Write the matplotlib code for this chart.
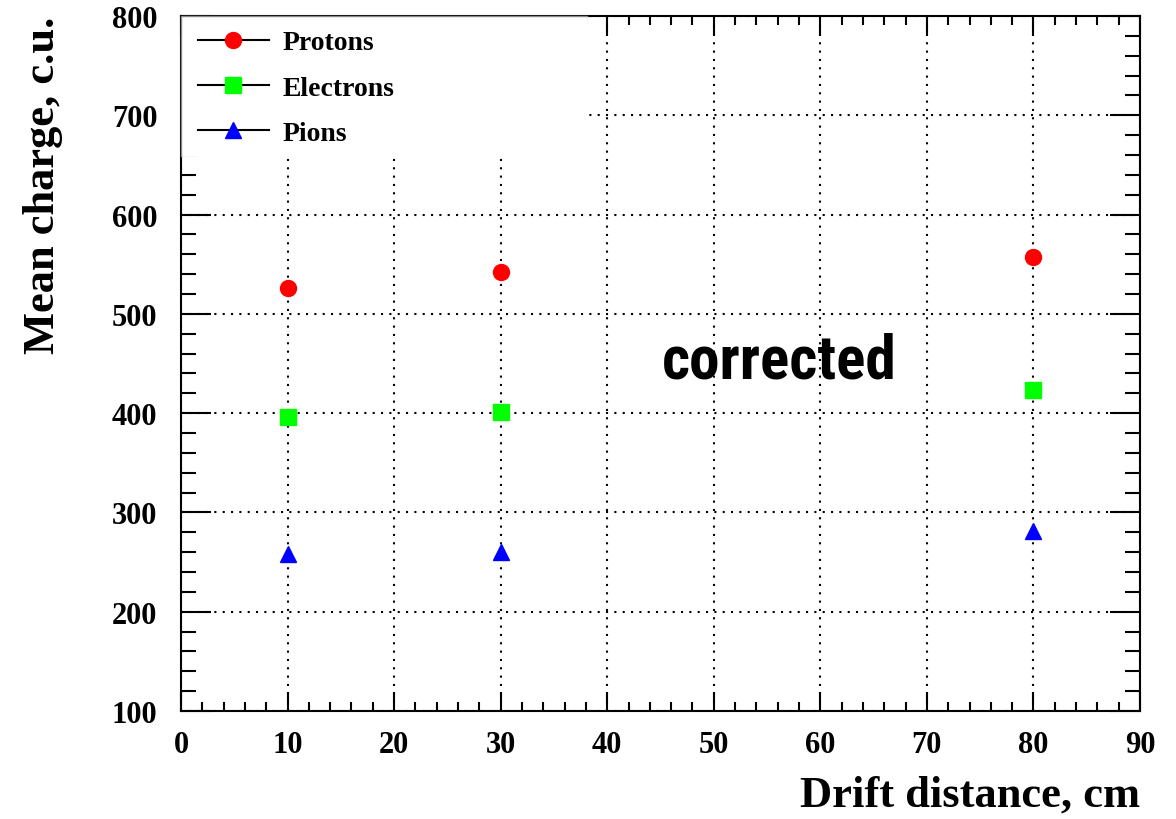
import numpy as np
import matplotlib
matplotlib.use("Agg")
import matplotlib.pyplot as plt
from matplotlib import font_manager
from matplotlib.ticker import MultipleLocator
from matplotlib.patches import Rectangle
from matplotlib.lines import Line2D

# mean collected charge vs drift distance, per particle type
drift = [10, 30, 80]
protons = [526, 542, 557]
electrons = [396, 401, 423]
pions = [258, 260, 281]

plt.rcParams['font.family'] = ['Liberation Serif', 'DejaVu Serif']
plt.rcParams['font.weight'] = 'bold'

fig = plt.figure(figsize=(11.76, 8.2), dpi=100)
ax = fig.add_axes([0.1539, 0.1317, 0.8155, 0.8476])

ax.set_xlim(0, 90)
ax.set_ylim(100, 800)

ax.plot(drift, protons, 'o', color='red', ms=11.5, mec='red', label='Protons', zorder=3)
ax.plot(drift, electrons, 's', color='#00ff00', ms=11.5, mec='#00ff00', label='Electrons', zorder=3)
ax.plot(drift, pions, '^', color='blue', ms=11.5, mec='blue', label='Pions', zorder=3)

ax.xaxis.set_major_locator(MultipleLocator(10))
ax.xaxis.set_minor_locator(MultipleLocator(2))
ax.yaxis.set_major_locator(MultipleLocator(100))
ax.yaxis.set_minor_locator(MultipleLocator(20))

ax.grid(True, which='major', color='black', linestyle=(0, (1, 3)), linewidth=1.5)

ax.tick_params(axis='both', which='both', direction='in', top=True, right=True,
               width=1.5, labelsize=22, colors='black')
ax.tick_params(axis='x', which='major', length=13.5, pad=14)
ax.tick_params(axis='x', which='minor', length=6.5)
ax.tick_params(axis='y', which='major', length=21.5, pad=17)
ax.tick_params(axis='y', which='minor', length=11)
for s in ax.spines.values():
    s.set_linewidth(1.5)

ax.set_xlabel('Drift distance, cm', fontsize=32, fontweight='bold', loc='right', labelpad=11)
ax.set_ylabel('Mean charge, c.u.', fontsize=32, fontweight='bold', loc='top', labelpad=35)

# pick a narrow bold sans if one is around
installed = {f.name for f in font_manager.fontManager.ttflist}
narrow = [f for f in ['Liberation Sans Narrow', 'Roboto Condensed', 'Open Sans Condensed',
                      'DejaVu Sans Condensed'] if f in installed]
if narrow:
    ax.text(45.1, 436, 'corrected', fontsize=44, fontweight='bold', family=narrow[0],
            ha='left', va='baseline', zorder=1)
else:
    ax.text(45.1, 436, 'corrected', fontsize=38, fontweight='heavy', fontstretch='condensed',
            family=['DejaVu Sans'], ha='left', va='baseline', zorder=1)

# legend box sits on top of the frame in the upper-left corner
box = Rectangle((0, 0.799), 0.423, 0.201, transform=ax.transAxes, facecolor='white',
                edgecolor='none', clip_on=False, zorder=4.5)
ax.add_patch(box)
ax.plot([0, 0, 0.423], [0.799, 1, 1], transform=ax.transAxes, color='#888888', lw=1,
        clip_on=False, zorder=4.6)

h, l = ax.get_legend_handles_labels()
leg_handles = [Line2D([], [], color='black', lw=1.5, marker=hh.get_marker(), ms=11.5,
                      mfc=hh.get_markerfacecolor(), mec=hh.get_markeredgecolor()) for hh in h]
leg = ax.legend(leg_handles, l, loc='upper left', bbox_to_anchor=(0.003, 1.0), frameon=False,
                handlelength=2.55, handletextpad=0.5, labelspacing=0.72,
                borderaxespad=0.2, borderpad=0.3, prop={'weight': 'bold', 'size': 20})
leg.set_zorder(5)

fig.savefig('out.png', dpi=100)
